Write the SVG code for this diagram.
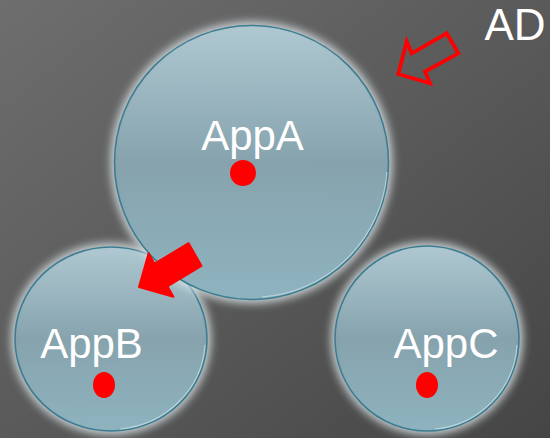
<svg xmlns="http://www.w3.org/2000/svg" width="550" height="438" viewBox="0 0 550 438">
  <defs>
    <linearGradient id="bg" x1="0" y1="0" x2="1" y2="1">
      <stop offset="0" stop-color="#6e6e6e"/>
      <stop offset="0.5" stop-color="#5a5a5a"/>
      <stop offset="1" stop-color="#454545"/>
    </linearGradient>
    <linearGradient id="ball" x1="0" y1="0" x2="0" y2="1">
      <stop offset="0" stop-color="#acc7d1"/>
      <stop offset="0.5" stop-color="#7f9ea9"/>
      <stop offset="1" stop-color="#88b0bd"/>
    </linearGradient>
    <filter id="glow" x="-30%" y="-30%" width="160%" height="160%">
      <feGaussianBlur stdDeviation="4.5"/>
    </filter>
    <style>
      .halo { fill: #dde6e9; opacity: 0.85; filter: url(#glow); }
      .ball { fill: url(#ball); fill-opacity: 0.9; stroke: #3c7d91; stroke-width: 1.6; }
      .rim { fill: none; stroke: #d9ecf2; stroke-width: 1.2; opacity: 0.6; }
      .lbl { font-family: "Liberation Sans", Arial, sans-serif; font-size: 42px; fill: #ffffff; text-anchor: middle; }
      .dot { fill: #ff0000; }
    </style>
  </defs>
  <rect width="550" height="438" fill="url(#bg)"/>

  <g id="appB">
    <ellipse class="halo" cx="111" cy="339" rx="100" ry="96"/>
    <ellipse class="ball" cx="111" cy="339" rx="96" ry="92"/>
    <path class="rim" d="M 205 345 A 94 90 0 0 1 120 429"/>
    <text class="lbl" x="91.5" y="358">AppB</text>
    <ellipse class="dot" cx="104" cy="385" rx="11" ry="13"/>
  </g>

  <g id="appC">
    <ellipse class="halo" cx="427" cy="338.5" rx="96" ry="96.5"/>
    <ellipse class="ball" cx="427" cy="338.5" rx="92" ry="92.5"/>
    <path class="rim" d="M 517 345 A 90 90 0 0 1 435 429"/>
    <text class="lbl" x="446" y="358">AppC</text>
    <ellipse class="dot" cx="427" cy="385" rx="11" ry="13"/>
  </g>

  <g id="appA">
    <circle class="halo" cx="251.5" cy="162.5" r="141"/>
    <circle class="ball" cx="251.5" cy="162.5" r="137"/>
    <path class="rim" d="M 387 172 A 135 135 0 0 1 262 297"/>
    <text class="lbl" x="252.5" y="150">AppA</text>
    <circle class="dot" cx="243" cy="173" r="13"/>
  </g>

  <g id="AD">
    <text class="lbl" x="515" y="40" style="font-size:44px">AD</text>
  </g>

  <g id="connectors">
    <polygon points="139,287 148.6,253.3 154.6,263.7 188.6,243.2 201.4,265.8 167.4,286.3 173.4,296.7" fill="#ff0000" stroke="#ff0000" stroke-width="2" stroke-linejoin="round"/>
    <polygon points="398.3,74 406.7,41.7 411.7,53.3 446.7,33.3 458.3,53.3 425,71.7 430,83.3" fill="none" stroke="#ff0000" stroke-width="3.8" stroke-linejoin="miter"/>
  </g>
</svg>
